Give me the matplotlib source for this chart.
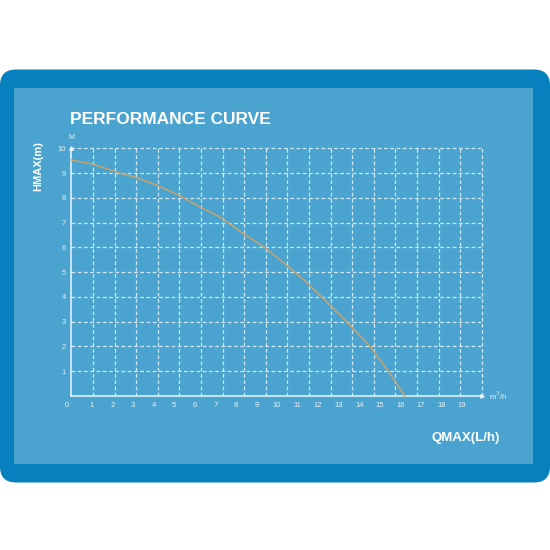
"""Pump performance curve (head vs flow) drawn on a blue card."""
import numpy as np
import matplotlib
matplotlib.use('Agg')
import matplotlib.pyplot as plt
from matplotlib.patches import FancyBboxPatch, Rectangle
import matplotlib.transforms as mtransforms

plt.rcParams['font.family'] = ['Liberation Sans', 'DejaVu Sans']

# Data: flow (m3/h) vs head (m)
flow = [0.0, 1.02, 2.35, 3.13, 4.16, 5.22, 6.24, 7.22, 8.34, 9.40,
        10.45, 11.49, 12.17, 13.39, 14.52, 15.42, 16.22]
head = [9.53, 9.37, 9.00, 8.83, 8.51, 8.11, 7.64, 7.23, 6.57, 6.00,
        5.29, 4.55, 4.00, 3.00, 2.00, 1.00, 0.0]

x_ticks = list(range(20))
y_ticks = list(range(1, 11))
x_ticklabels = [str(v) for v in x_ticks]
y_ticklabels = [str(v) for v in y_ticks]

GRID_STEP = 1.0506  # grid cells are a bit wider than the tick label spacing
grid_x = np.arange(20) * GRID_STEP
grid_y = np.arange(11)

OUTER = '#0681BD'
INNER = '#4BA4D0'
CURVE = '#C9A26B'
GRID = '#DDEFF8'

fig = plt.figure(figsize=(5.5, 5.5), dpi=100)
fig.patch.set_facecolor('white')

# background card in pixel coordinates
bg = fig.add_axes([0, 0, 1, 1])
bg.set_xlim(0, 550)
bg.set_ylim(550, 0)
bg.axis('off')
bg.add_patch(FancyBboxPatch((0, 69.5), 550, 413, boxstyle='round,pad=0,rounding_size=16',
                            fc=OUTER, ec='none'))
bg.add_patch(Rectangle((14, 88), 519, 376, fc=INNER, ec='none'))

bg.text(70, 120, 'PERFORMANCE CURVE', color='white', fontsize=12.5, fontweight='bold',
        ha='left', va='center')
bg.text(38, 166, 'HMAX(m)', color='white', fontsize=8, fontweight='bold',
        rotation=90, ha='center', va='center')
bg.text(466, 438, 'QMAX(L/h)', color='white', fontsize=9.5, fontweight='bold',
        ha='center', va='center')

# chart area
ax = fig.add_axes([71.4 / 550, 154 / 550, 421.5 / 550, 255.1 / 550])
ax.set_facecolor('none')
ax.set_xlim(0, 20.5)
ax.set_ylim(0, 10.3)
for s in ax.spines.values():
    s.set_visible(False)

ax.hlines(grid_y[1:], 0, grid_x[-1], colors=GRID, linewidth=0.9, linestyles=(0, (3, 2)), alpha=0.9)
ax.vlines(grid_x[1:], 0, grid_y[-1], colors=GRID, linewidth=0.9, linestyles=(0, (3, 2)), alpha=0.9)

ax.plot([0, grid_x[-1]], [0, 0], color='#EAF5FB', linewidth=1.1, clip_on=False)
ax.plot([0, 0], [0, grid_y[-1]], color='#EAF5FB', linewidth=1.1, clip_on=False)
ax.plot([grid_x[-1]], [0], marker='>', markersize=2.5, color='#EAF5FB', clip_on=False)
ax.plot([0], [grid_y[-1]], marker='^', markersize=2.5, color='#EAF5FB', clip_on=False)

ax.plot(flow, head, color=CURVE, linewidth=1.1, clip_on=False)

ax.set_xticks(x_ticks)
ax.set_xticklabels(x_ticklabels)
ax.set_yticks(y_ticks)
ax.set_yticklabels(y_ticklabels)
ax.tick_params(length=0, labelsize=5.5, labelcolor='#E4F1F8')
ax.tick_params(axis='x', pad=4.6)
ax.tick_params(axis='y', pad=3.8)
# the "0" label sits a little left of the origin
shift = mtransforms.ScaledTranslation(-5 / 100, 0, fig.dpi_scale_trans)
first = ax.get_xticklabels()[0]
first.set_transform(first.get_transform() + shift)

ax.text(0, 10.3, 'M', color='#E4F1F8', fontsize=5, ha='center', va='bottom')
ax.text(20.3, 0, 'm$^3$/h', color='#E4F1F8', fontsize=5.5, ha='left', va='center')

fig.savefig('out.png', dpi=100)
